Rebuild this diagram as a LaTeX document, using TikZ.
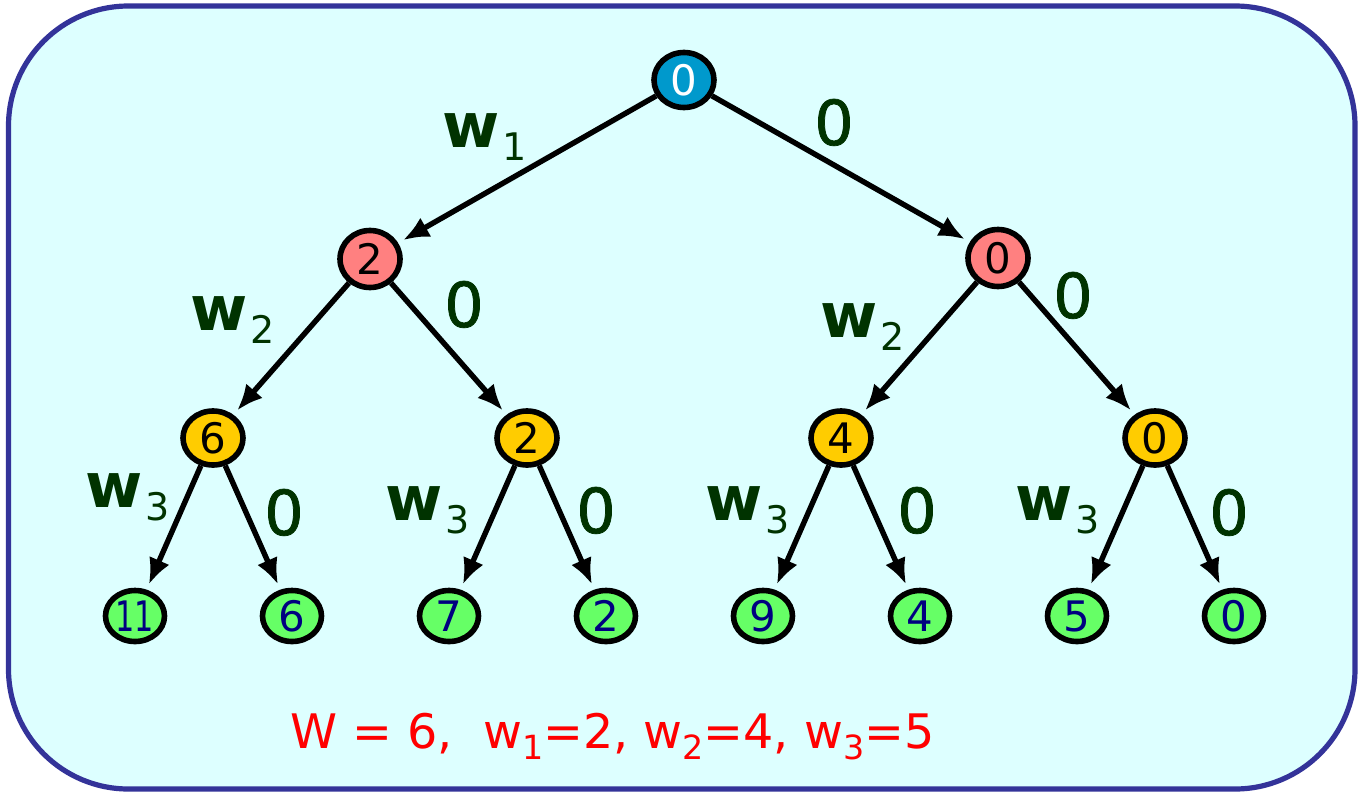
\documentclass[tikz,border=0pt]{standalone}
\usepackage{fontspec}
\setmainfont{DejaVu Sans}
\newfontfamily\heavyzero[FakeBold=1.2]{DejaVu Sans}
\usetikzlibrary{shapes.geometric,arrows.meta}

\definecolor{panelfill}{RGB}{221,255,255}
\definecolor{panelline}{RGB}{51,51,153}
\definecolor{rootfill}{RGB}{0,153,204}
\definecolor{pinkfill}{RGB}{255,128,128}
\definecolor{gold}{RGB}{255,204,0}
\definecolor{leaffill}{RGB}{102,255,102}
\definecolor{navytext}{RGB}{0,0,128}
\definecolor{labelgreen}{RGB}{0,51,0}

% weight label: bold w with a plain, lowered index
\newcommand{\wlab}[1]{\textbf{w}\hspace{1.5pt}\raisebox{-6.5pt}{\fontsize{19}{19}\selectfont #1}}
% lowered index in the data line
\newcommand{\dsub}[1]{\raisebox{-7pt}{\fontsize{21}{21}\selectfont #1}}

\begin{document}
\begin{tikzpicture}[x=0.5pt,y=-0.5pt,
  tnode/.style={ellipse, draw=black, line width=2.8pt, inner sep=0pt,
    minimum width=30pt, minimum height=27.5pt, font=\fontsize{21}{21}\selectfont},
  rootnode/.style={tnode, fill=rootfill, text=white},
  midnode/.style={tnode, fill=pinkfill, minimum height=28.5pt},
  lownode/.style={tnode, fill=gold, minimum height=27pt},
  leafnode/.style={tnode, fill=leaffill, text=navytext, minimum width=29.5pt, minimum height=25.5pt},
  edge/.style={line width=2.7pt, -{Latex[length=13pt,width=11pt]}, shorten >=2.8pt},
  wlabel/.style={anchor=base west, inner sep=0pt, text=labelgreen, font=\fontsize{31}{31}\selectfont},
  zlabel/.style={anchor=base, inner sep=0pt, text=labelgreen, font=\fontsize{31}{31}\heavyzero}
]
\useasboundingbox (0,0) rectangle (1360,793);

% panel
\draw[fill=panelfill, draw=panelline, line width=2.6pt, rounded corners=60pt]
  (8.5,6) rectangle (1355,789);

% tree nodes
\node[rootnode] (r) at (684,80) {0};
\node[midnode] (a) at (370,259) {2};
\node[midnode] (b) at (998,258) {0};
\node[lownode] (c) at (213,438) {6};
\node[lownode] (d) at (527,438) {2};
\node[lownode] (e) at (841,438) {4};
\node[lownode] (f) at (1155,438) {0};
\node[leafnode] (l1) at (135,616) {\makebox[0pt]{\scalebox{0.72}[1]{11}}};
\node[leafnode] (l2) at (292,616) {6};
\node[leafnode] (l3) at (449,616) {7};
\node[leafnode] (l4) at (606,616) {2};
\node[leafnode] (l5) at (763,616) {9};
\node[leafnode] (l6) at (920,616) {4};
\node[leafnode] (l7) at (1077,616) {5};
\node[leafnode] (l8) at (1234,616) {0};

% connectors
\draw[edge] (r) -- (a);
\draw[edge] (r) -- (b);
\draw[edge] (a) -- (c);
\draw[edge] (a) -- (d);
\draw[edge] (b) -- (e);
\draw[edge] (b) -- (f);
\draw[edge] (c) -- (l1);
\draw[edge] (c) -- (l2);
\draw[edge] (d) -- (l3);
\draw[edge] (d) -- (l4);
\draw[edge] (e) -- (l5);
\draw[edge] (e) -- (l6);
\draw[edge] (f) -- (l7);
\draw[edge] (f) -- (l8);

% edge weights
\node[wlabel] (wra) at (442,147) {\wlab{1}};
\node[zlabel] (zrb) at (834,145) {0};
\node[wlabel] (wac) at (190,330) {\wlab{2}};
\node[zlabel] (zad) at (464,327) {0};
\node[wlabel] (wbe) at (820,337) {\wlab{2}};
\node[zlabel] (zbf) at (1073,318) {0};
\node[wlabel] (wc) at (85,507) {\wlab{3}};
\node[zlabel] (zc) at (284,535) {0};
\node[wlabel] (wd) at (385,520) {\wlab{3}};
\node[zlabel] (zd) at (596,533) {0};
\node[wlabel] (we) at (705,520) {\wlab{3}};
\node[zlabel] (ze) at (917,533) {0};
\node[wlabel] (wf) at (1015,520) {\wlab{3}};
\node[zlabel] (zf) at (1229,535) {0};

% problem data
\node[anchor=base west, inner sep=0pt, text=red] (data) at (290,748)
  {\resizebox{322pt}{!}{\fontsize{30}{30}\selectfont W = 6,\ \ w\dsub{1}=2, w\dsub{2}=4, w\dsub{3}=5}};
\end{tikzpicture}
\end{document}
